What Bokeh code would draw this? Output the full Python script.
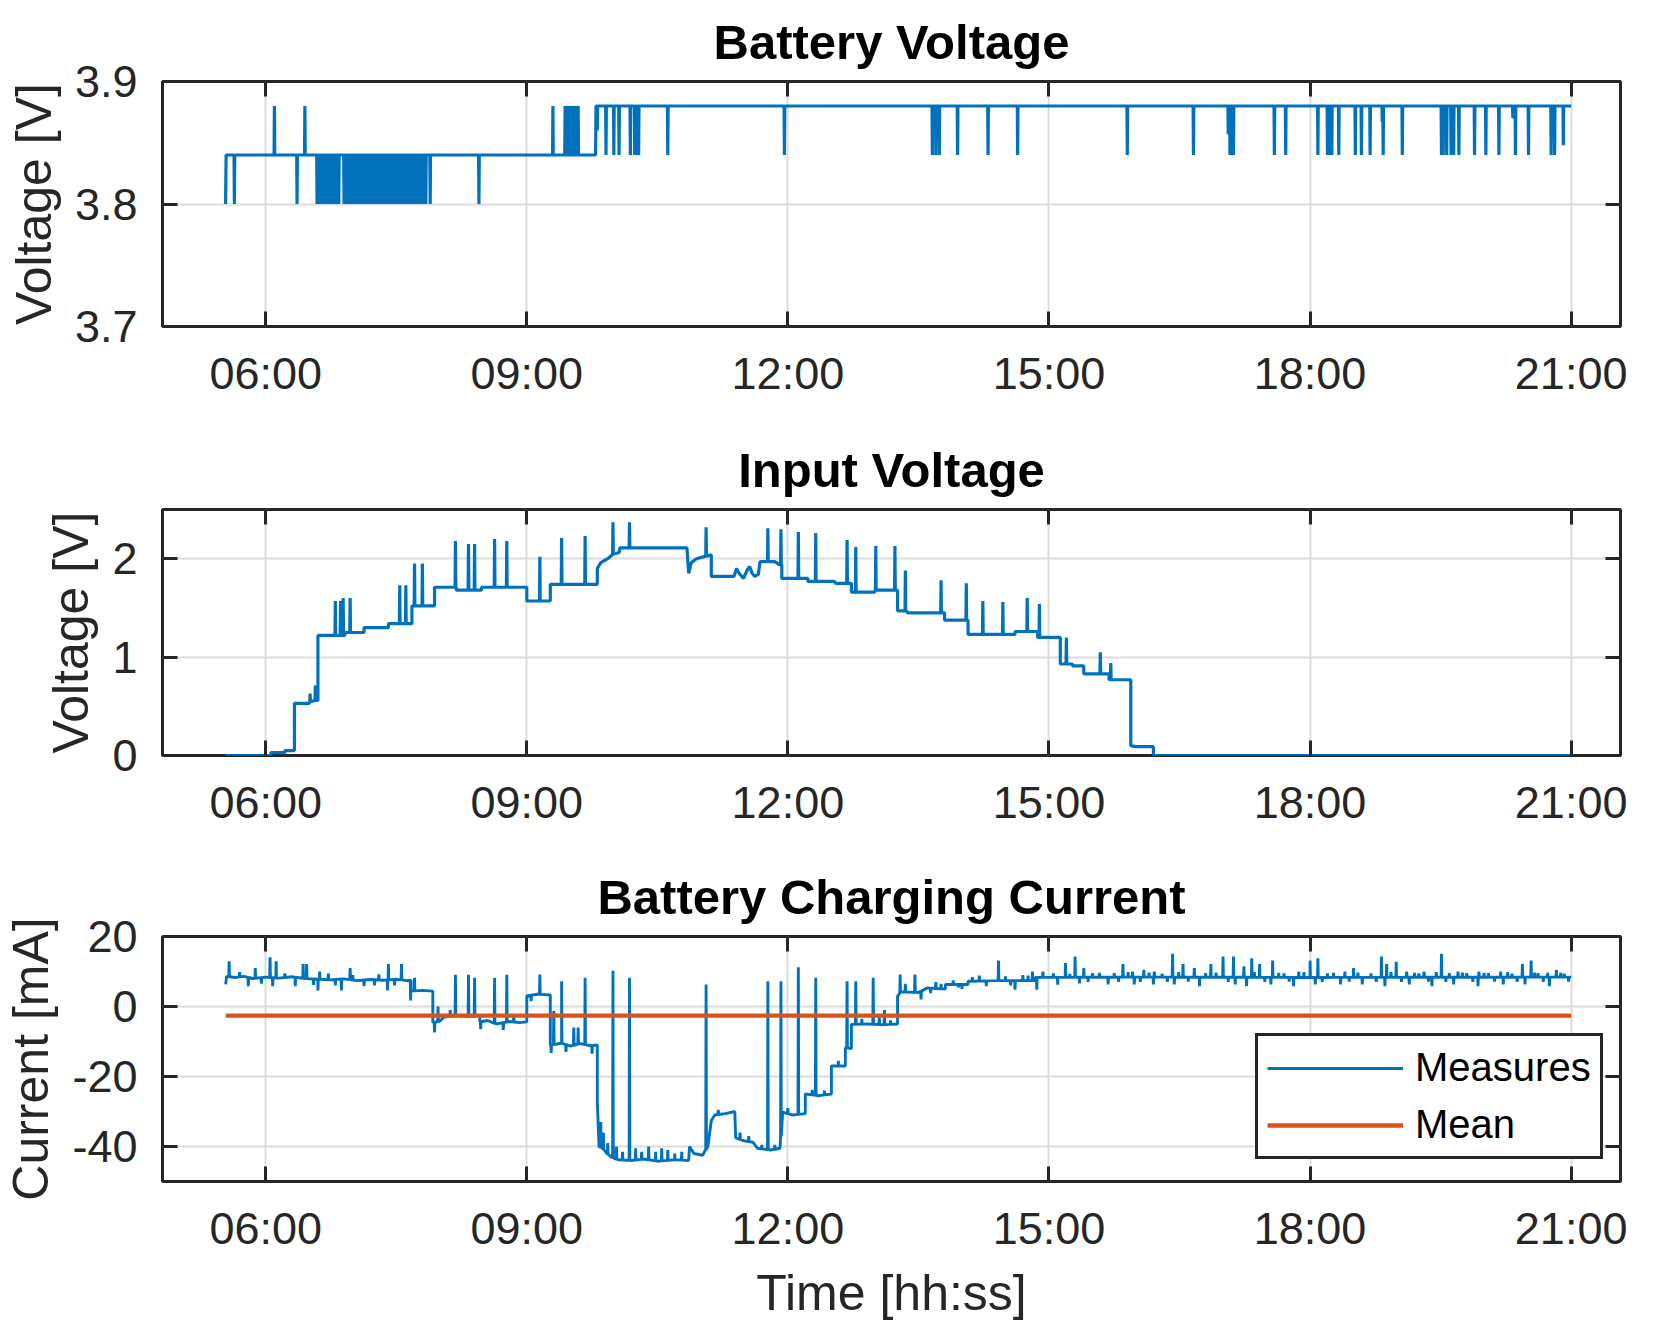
import numpy as np
from bokeh.plotting import figure
from bokeh.layouts import column
from bokeh.models import (Range1d, FixedTicker, LinearAxis, Legend, LegendItem,
                          CustomLabelingPolicy)
from bokeh.embed import file_html
from bokeh.resources import INLINE

# ---------------- data (time in decimal hours) ----------------
tick_hours = [6, 9, 12, 15, 18, 21]
tick_labels = ["06:00", "09:00", "12:00", "15:00", "18:00", "21:00"]

bv_ticks = [3.7, 3.8, 3.9]
bv_tick_labels = ["3.7", "3.8", "3.9"]
iv_ticks = [0, 1, 2]
iv_tick_labels = ["0", "1", "2"]
cc_ticks = [-40, -20, 0, 20]
cc_tick_labels = ["-40", "-20", "0", "20"]

# Battery voltage: step baseline + single-sample excursions
bv_base_t = [5.539, 5.545, 9.79, 9.795, 21.0]
bv_base_v = [3.80, 3.84, 3.84, 3.88, 3.88]
bv_spike_t = [5.64, 6.10, 6.36, 6.45,
              6.59, 6.605, 6.62, 6.635, 6.65, 6.665,
              6.69, 6.705, 6.72, 6.735, 6.75, 6.765, 6.78, 6.795, 6.81, 6.825, 6.84,
              6.90, 6.915, 6.93, 6.945, 6.96, 6.975, 6.99, 7.005, 7.02, 7.035, 7.05,
              7.065, 7.08, 7.095, 7.11, 7.125, 7.14, 7.155, 7.17, 7.185, 7.20, 7.215,
              7.23, 7.245, 7.26, 7.275, 7.29, 7.305, 7.32, 7.335, 7.35, 7.365, 7.38,
              7.395, 7.41, 7.425, 7.44, 7.455, 7.47, 7.485, 7.50, 7.515, 7.53, 7.545,
              7.56, 7.575, 7.59, 7.605, 7.62, 7.635, 7.65, 7.665, 7.68,
              7.695, 7.71, 7.725, 7.74, 7.755, 7.77, 7.785, 7.80, 7.815, 7.83, 7.84,
              7.89, 8.45, 9.30,
              9.44, 9.455, 9.47, 9.485, 9.50, 9.515, 9.53, 9.545, 9.56, 9.575, 9.59,
              9.81, 9.91, 10.0, 10.06, 10.19, 10.24, 10.255, 10.27, 10.285, 10.62,
              11.96, 13.66, 13.70, 13.74, 13.95, 14.30, 14.64, 15.90, 16.66,
              17.06, 17.08, 17.11, 17.12, 17.59, 17.72, 18.09, 18.20, 18.22, 18.25,
              18.33, 18.52, 18.59, 18.69, 18.83, 18.84, 19.06, 19.51, 19.53, 19.57,
              19.62, 19.65, 19.71, 19.89, 20.02, 20.17, 20.33, 20.36, 20.51, 20.77,
              20.81, 20.91]
bv_spike_v = ([3.80, 3.88, 3.80, 3.88] + [3.80] * 6 + [3.80] * 11 + [3.80] * 53 + [3.80] * 11
              + [3.80, 3.80, 3.88] + [3.88] * 11
              + [3.86, 3.84, 3.84, 3.84, 3.84, 3.84, 3.84, 3.84, 3.84, 3.84,
                 3.84, 3.84, 3.84, 3.84, 3.84, 3.84, 3.84, 3.84, 3.84,
                 3.857, 3.84, 3.84, 3.84, 3.84, 3.84, 3.84, 3.84, 3.84, 3.84,
                 3.84, 3.84, 3.84, 3.84, 3.867, 3.84, 3.84, 3.84, 3.84, 3.84,
                 3.84, 3.84, 3.84, 3.84, 3.84, 3.84, 3.87, 3.84, 3.84, 3.84,
                 3.84, 3.848])

# Input voltage
iv_base_t = [5.54, 6.06, 6.06, 6.22, 6.22, 6.33, 6.33, 6.50, 6.52, 6.58, 6.60, 6.60,
             6.91, 6.91, 7.13, 7.13, 7.41, 7.41, 7.68, 7.68, 7.94, 7.94, 8.19, 8.19,
             8.48, 8.48, 9.0, 9.0, 9.27, 9.27, 9.81, 9.81, 9.85, 9.93, 10.0, 10.06,
             10.07, 10.84, 10.86, 10.89, 10.95, 11.12, 11.12, 11.38, 11.41, 11.44,
             11.49, 11.53, 11.56, 11.59, 11.62, 11.66, 11.68, 11.85, 11.90, 11.93,
             11.93, 12.23, 12.23, 12.53, 12.55, 12.73, 12.73, 13.0, 13.0, 13.26,
             13.26, 13.36, 13.38, 13.80, 13.80, 14.07, 14.07, 14.61, 14.61, 14.87,
             14.87, 15.13, 15.13, 15.27, 15.27, 15.40, 15.40, 15.69, 15.69, 15.94,
             15.94, 16.0, 16.2, 16.2, 21.0]
iv_base_v = [0.0, 0.0, 0.03, 0.03, 0.05, 0.05, 0.53, 0.53, 0.55, 0.56, 0.56, 1.22,
             1.22, 1.25, 1.25, 1.30, 1.30, 1.34, 1.34, 1.52, 1.52, 1.71, 1.71, 1.68,
             1.68, 1.71, 1.71, 1.57, 1.57, 1.74, 1.74, 1.90, 1.96, 2.00, 2.05, 2.06,
             2.11, 2.11, 1.85, 1.96, 2.00, 2.04, 1.82, 1.82, 1.90, 1.85,
             1.80, 1.88, 1.92, 1.85, 1.82, 1.84, 1.97, 1.97, 1.94, 1.94,
             1.80, 1.80, 1.77, 1.77, 1.75, 1.75, 1.66, 1.66, 1.68, 1.68,
             1.47, 1.47, 1.45, 1.45, 1.375, 1.375, 1.23, 1.23, 1.26, 1.26,
             1.20, 1.20, 0.93, 0.93, 0.91, 0.91, 0.83, 0.83, 0.77, 0.77,
             0.10, 0.09, 0.09, 0.0, 0.0]
iv_spike_t = [6.51, 6.57, 6.80, 6.86, 6.89, 6.97, 7.54, 7.61, 7.71, 7.80, 8.18, 8.33,
              8.40, 8.63, 8.77, 9.15, 9.40, 9.67, 9.99, 10.18, 11.06, 11.77, 11.92,
              12.12, 12.32, 12.68, 12.78, 13.01, 13.23, 13.35, 13.76, 14.05, 14.24,
              14.47, 14.75, 14.89, 15.20, 15.59, 15.71]
iv_spike_v = [0.63, 0.71, 1.57, 1.57, 1.60, 1.60, 1.73, 1.73, 1.95, 1.95, 2.18, 2.15,
              2.15, 2.20, 2.18, 2.02, 2.21, 2.23, 2.37, 2.37, 2.32, 2.31, 2.30,
              2.27, 2.26, 2.19, 2.12, 2.13, 2.13, 1.88, 1.78, 1.75, 1.57,
              1.56, 1.60, 1.54, 1.20, 1.05, 0.94]

# Battery charging current
cc_base_t = [5.54, 5.55, 5.65, 5.75, 5.85, 6.0, 6.15, 6.3, 6.45, 6.6, 6.75, 6.9, 7.05,
             7.2, 7.35, 7.5, 7.62, 7.67, 7.67, 7.80, 7.92, 7.92, 8.0, 8.05, 8.20, 8.35,
             8.46, 8.46, 8.55, 8.65, 8.80, 8.92, 9.0, 9.0, 9.12, 9.27, 9.27, 9.40,
             9.50, 9.62, 9.72, 9.81, 9.81, 9.83, 9.87, 9.92, 9.97, 10.05, 10.2, 10.35,
             10.5, 10.7, 10.86, 10.87, 10.92, 11.02, 11.08, 11.12, 11.16, 11.28, 11.39,
             11.40, 11.48, 11.60, 11.65, 11.80, 11.91, 11.94, 12.05, 12.20, 12.20,
             12.35, 12.50, 12.50, 12.66, 12.66, 12.73, 12.73, 12.90, 13.10, 13.26,
             13.26, 13.30, 13.50, 13.60, 13.81, 13.81, 14.07, 14.07, 14.40, 14.84,
             14.84, 16.0, 18.0, 21.0]
cc_base_v = [6.3, 8.6, 8.3, 8.6, 8.0, 8.4, 8.1, 8.5, 8.0, 7.8, 7.6, 7.9, 7.4,
             7.7, 7.5, 7.8, 7.4, 7.5, 4.4, 4.6, 4.4, -4.6, -4.2, -3.0, -2.6, -2.8,
             -2.6, -4.4, -4.0, -5.0, -4.3, -4.6, -4.4, 3.0, 3.5, 3.3, -11.0, -10.5,
             -11.3, -10.6, -11.2, -11.0, -27.0, -40.0, -40.5, -42.0, -43.0, -43.8, -44.0, -43.6,
             -44.2, -43.8, -44.0, -40.0, -42.0, -42.5, -40.0, -32.6, -31.0, -30.6, -30.0,
             -37.5, -38.3, -38.8, -40.5, -41.0, -40.5, -30.2, -31.0, -30.6, -25.0,
             -25.5, -25.0, -17.0, -17.0, -11.8, -12.0, -5.1, -5.0, -5.2, -5.0,
             2.9, 4.2, 4.0, 5.3, 5.0, 6.3, 6.3, 7.2, 7.4, 7.4,
             8.3, 8.4, 8.3, 8.4]
cc_spike_t = [5.58, 5.70, 5.80, 5.88, 5.95, 6.05, 6.08, 6.12, 6.22, 6.34, 6.43, 6.47,
              6.55, 6.60, 6.62, 6.72, 6.80, 6.87, 6.97, 7.0, 7.13, 7.25, 7.30, 7.40,
              7.41, 7.48, 7.56, 7.665, 7.71,
              7.94, 7.98, 8.12, 8.18, 8.33, 8.40, 8.47, 8.63, 8.73, 8.77, 8.85, 9.05,
              9.15, 9.28, 9.31, 9.40, 9.45, 9.54, 9.59, 9.67, 9.75,
              9.85, 9.88, 9.93, 9.99, 10.03, 10.10, 10.18, 10.25, 10.32, 10.40, 10.48,
              10.55, 10.62, 10.70, 10.78, 11.06, 11.20, 11.45, 11.55, 11.70, 11.77,
              11.85, 11.92, 12.0, 12.12, 12.28, 12.32, 12.42, 12.58, 12.68, 12.78,
              12.85, 12.98, 13.05, 13.11, 13.18, 13.29, 13.35, 13.46,
              13.53, 13.70, 13.90, 14.0, 14.2, 14.42, 14.61, 14.70, 14.81, 14.86,
              14.93, 15.05, 15.19, 15.30, 15.35, 15.40, 15.50, 15.68, 15.75, 15.85,
              15.96, 15.98, 16.09, 16.20, 16.21, 16.30, 16.42, 16.44, 16.54, 16.67,
              16.73, 16.80, 16.86, 17.0, 17.12, 17.14, 17.24, 17.27, 17.33, 17.42,
              17.55, 17.57, 17.70, 17.81, 17.87, 18.0, 18.06, 18.09, 18.20, 18.35,
              18.40, 18.50, 18.60, 18.70, 18.82, 18.86, 18.88, 18.99, 19.11, 19.14,
              19.25, 19.31, 19.40, 19.51, 19.60, 19.65, 19.70, 19.80, 19.93, 19.94,
              20.05, 20.19, 20.22, 20.32, 20.44, 20.47, 20.54, 20.62, 20.73, 20.75,
              20.83, 20.92,
              13.64, 13.76, 13.96, 14.12, 14.28, 14.50, 14.56, 14.76, 15.10, 15.24,
              15.45, 15.58, 15.80, 15.91, 16.05, 16.15, 16.36, 16.49, 16.60, 16.92,
              17.06, 17.36, 17.48, 17.64, 17.76, 17.93, 18.14, 18.27, 18.45, 18.55,
              18.76, 18.93, 19.05, 19.20, 19.36, 19.45, 19.56, 19.75, 19.87, 20.0,
              20.12, 20.27, 20.38, 20.58, 20.68, 20.88, 20.97]
cc_spike_v = [12.9, 9.8, 5.8, 11.0, 6.5, 14.1, 5.8, 12.9, 9.5, 5.8, 12.1, 12.1,
              6.2, 4.6, 10.0, 9.4, 6.0, 4.6, 11.0, 9.0, 5.8, 6.0, 9.2, 4.6,
              12.1, 6.0, 12.1, 1.7, 8.2,
              -7.4, 0.0, -1.0, 9.1, 9.1, 8.2, -6.5, 8.2, -6.7, 9.1, -2.5, 1.5,
              9.1, -13.3, -1.3, 7.2, -13.0, -6.0, -6.0, 8.2, -13.5,
              -33.0, -36.0, -39.0, 10.2, -40.0, -41.5, 8.2, -40.5, -41.5, -40.0, -41.5,
              -40.5, -41.0, -42.0, -41.5, 6.3, -29.5, -36.0, -37.0, -39.5, 7.2,
              -39.5, 7.2, -29.0, 11.2, -23.8, 8.2, -24.0, -15.5, 7.2, 7.2,
              -3.5, 8.2, -3.0, -1.0, -4.0, 9.1, 6.5, 9.1,
              2.0, 7.0, 7.5, 5.0, 8.8, 13.1, 4.8, 9.0, 10.0, 4.8,
              10.0, 9.5, 12.4, 14.3, 6.6, 11.0, 9.5, 6.3, 9.5, 12.1,
              10.0, 6.3, 10.5, 6.3, 10.0, 9.4, 15.1, 6.3, 12.1, 11.0,
              5.8, 9.5, 12.1, 14.3, 14.3, 6.3, 11.5, 5.8, 13.8, 12.1,
              6.3, 13.1, 9.5, 5.8, 10.0, 13.1, 6.3, 13.8, 9.5, 6.3,
              10.0, 11.0, 6.3, 9.5, 14.3, 5.8, 12.1, 12.8, 10.0, 6.3,
              9.5, 10.0, 5.8, 15.1, 9.5, 6.3, 10.0, 9.5, 5.8, 10.0,
              9.5, 10.0, 6.3, 9.4, 12.1, 6.3, 13.1, 9.5, 9.6, 5.8,
              10.5, 9.4,
              3.8, 6.5, 5.5, 8.4, 5.8, 8.6, 6.0, 8.8, 6.2, 9.3,
              7.0, 9.6, 7.0, 9.8, 7.0, 9.7, 7.0, 9.8, 7.1, 9.7,
              7.0, 9.8, 7.0, 9.6, 7.1, 9.8, 7.0, 9.6, 7.1, 9.7,
              7.0, 9.8, 7.0, 9.6, 7.1, 9.8, 7.0, 9.7, 7.0, 9.6,
              7.1, 9.8, 7.0, 9.7, 7.0, 9.6, 7.1]
cc_mean = -2.6

# ---------------- helpers ----------------
FONT = "Liberation Sans"
BLUE = "#0072BD"
ORANGE = "#D95319"
INK = "#262626"
X_RANGE = (4.814, 21.567)
NO_LABELS = CustomLabelingPolicy(code="""
for (const i of indices) { indices.unset(i) }
return indices
""")


def build_series(base_t, base_v, spike_t, spike_v, half=0.004):
    bt = np.asarray(base_t, dtype=float)
    bvals = np.asarray(base_v, dtype=float)
    pts = [(t, v) for t, v in zip(base_t, base_v)]
    for t, v in zip(spike_t, spike_v):
        b = float(np.interp(t, bt, bvals))
        pts += [(t - half, b), (t, v), (t + half, b)]
    pts.sort(key=lambda p: p[0])
    return [p[0] for p in pts], [p[1] for p in pts]


def make_fig(title, ylabel, y_range, y_ticks, y_labels, height, border_top, border_bottom,
             xlabel=None):
    p = figure(width=1645, height=height, x_range=Range1d(*X_RANGE), y_range=Range1d(*y_range),
               output_backend="svg", toolbar_location=None,
               min_border_left=161, min_border_right=25,
               min_border_top=border_top, min_border_bottom=border_bottom)
    p.title.text = title
    p.title.text_font = FONT
    p.title.text_font_size = "49px"
    p.title.text_font_style = "bold"
    p.title.text_color = "black"
    p.title.align = "center"
    p.title.standoff = 4
    p.outline_line_color = INK
    p.outline_line_width = 3
    p.outline_line_alpha = 1.0
    p.background_fill_color = "white"
    p.border_fill_color = "white"

    xt = FixedTicker(ticks=tick_hours)
    yt = FixedTicker(ticks=y_ticks)
    p.xaxis.ticker = xt
    p.yaxis.ticker = yt
    p.xgrid.ticker = xt
    p.ygrid.ticker = yt
    p.xaxis.major_label_overrides = {h: lab for h, lab in zip(tick_hours, tick_labels)}
    p.yaxis.major_label_overrides = {t: lab for t, lab in zip(y_ticks, y_labels)}
    p.grid.grid_line_color = "#dcdcdc"
    p.grid.grid_line_width = 2

    for ax in (p.xaxis[0], p.yaxis[0]):
        ax.axis_line_color = None
        ax.major_tick_in = 15
        ax.major_tick_out = 0
        ax.minor_tick_line_color = None
        ax.major_tick_line_color = INK
        ax.major_tick_line_width = 3
        ax.major_label_text_font = FONT
        ax.major_label_text_font_size = "45px"
        ax.major_label_text_color = INK
        ax.axis_label_text_font = FONT
        ax.axis_label_text_font_size = "50px"
        ax.axis_label_text_font_style = "normal"
        ax.axis_label_text_color = INK
    p.yaxis.major_label_standoff = 25
    p.yaxis.axis_label_standoff = 10
    p.xaxis.major_label_standoff = 21
    p.xaxis.axis_label_standoff = 8
    p.yaxis.axis_label = ylabel
    if xlabel:
        p.xaxis.axis_label = xlabel

    top = LinearAxis(ticker=FixedTicker(ticks=tick_hours))
    right = LinearAxis(ticker=FixedTicker(ticks=y_ticks))
    for ax in (top, right):
        ax.axis_line_color = None
        ax.major_tick_in = 15
        ax.major_tick_out = 0
        ax.minor_tick_line_color = None
        ax.major_tick_line_color = INK
        ax.major_tick_line_width = 3
        ax.major_label_policy = NO_LABELS
        ax.major_label_standoff = 0
    p.add_layout(top, "above")
    p.add_layout(right, "right")
    return p


# ---------------- figures ----------------
p1 = make_fig("Battery Voltage", "Voltage [V]", (3.7, 3.9), bv_ticks, bv_tick_labels,
              420, 81, 94)
bt, bv = build_series(bv_base_t, bv_base_v, bv_spike_t, bv_spike_v)
p1.line(bt, bv, line_color=BLUE, line_width=3.2)

p2 = make_fig("Input Voltage", "Voltage [V]", (0, 2.5), iv_ticks, iv_tick_labels,
              428, 89, 93)
it, iv = build_series(iv_base_t, iv_base_v, iv_spike_t, iv_spike_v)
p2.line(it, iv, line_color=BLUE, line_width=3.2)

p3 = make_fig("Battery Charging Current", "Current [mA]", (-50, 20), cc_ticks, cc_tick_labels,
              487, 88, 154, xlabel="Time [hh:ss]")
ct, cv = build_series(cc_base_t, cc_base_v, cc_spike_t, cc_spike_v)
r_meas = p3.line(ct, cv, line_color=BLUE, line_width=2.9)
r_mean = p3.line([ct[0], ct[-1]], [cc_mean, cc_mean], line_color=ORANGE, line_width=4.4)

legend = Legend(items=[LegendItem(label="Measures", renderers=[r_meas]),
                       LegendItem(label="Mean", renderers=[r_mean])],
                location=(1093, 22))
legend.label_text_font = FONT
legend.label_text_font_size = "40px"
legend.label_text_color = "black"
legend.glyph_width = 136
legend.glyph_height = 44
legend.label_height = 44
legend.label_standoff = 12
legend.padding = 9
legend.spacing = 12
legend.margin = 0
legend.border_line_color = INK
legend.border_line_width = 3
legend.border_line_alpha = 1.0
legend.background_fill_alpha = 1.0
p3.add_layout(legend)

layout = column(p1, p2, p3)
with open("out.html", "w") as f:
    f.write(file_html(layout, INLINE))
